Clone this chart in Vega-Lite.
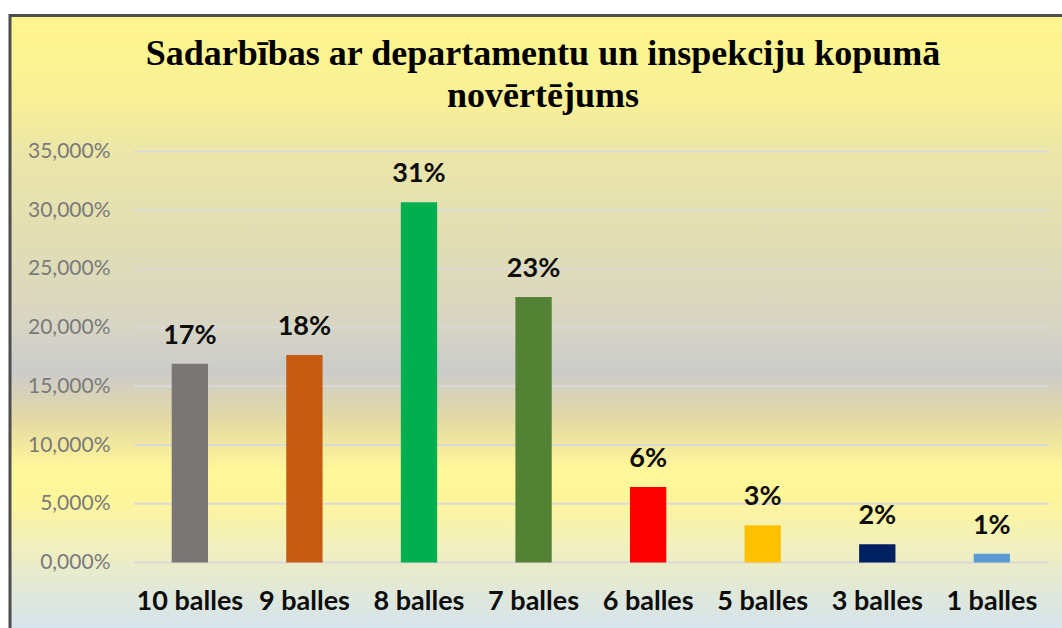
{
  "$schema": "https://vega.github.io/schema/vega-lite/v6.json",
  "width": 1052,
  "height": 612.5,
  "autosize": {"type": "none"},
  "padding": {"left": 10, "top": 15.5, "right": 0, "bottom": 0},
  "background": "white",
  "config": {
    "locale": {"number": {"decimal": ",", "thousands": " ", "grouping": [3], "currency": ["", " €"]}},
    "view": {
      "fill": {
        "gradient": "linear", "x1": 0, "y1": 0, "x2": 0, "y2": 1,
        "stops": [
          {"offset": 0, "color": "#fff68e"},
          {"offset": 0.138, "color": "#f9f096"},
          {"offset": 0.22, "color": "#ece6a8"},
          {"offset": 0.38, "color": "#e0ddb5"},
          {"offset": 0.51, "color": "#d7d5c4"},
          {"offset": 0.579, "color": "#cbcbcb"},
          {"offset": 0.66, "color": "#e4daa4"},
          {"offset": 0.742, "color": "#fff799"},
          {"offset": 0.79, "color": "#fdf59a"},
          {"offset": 0.865, "color": "#f2f0bd"},
          {"offset": 0.94, "color": "#e0e8d8"},
          {"offset": 1, "color": "#d6e4ec"}
        ]
      },
      "stroke": "#4d4d4d",
      "strokeWidth": 3,
      "strokeDash": [1052, 1664.5, 612.5]
    }
  },
  "title": {
    "text": ["Sadarbības ar departamentu un inspekciju kopumā", "novērtējums"],
    "font": "Liberation Serif",
    "fontSize": 36,
    "fontWeight": "bold",
    "color": "#000000",
    "lineHeight": 42,
    "anchor": "middle",
    "baseline": "top",
    "offset": -99,
    "dx": 7
  },
  "data": {
    "values": [
      {"cat": "10 balles", "v": 0.1693},
      {"cat": "9 balles", "v": 0.1767},
      {"cat": "8 balles", "v": 0.3067},
      {"cat": "7 balles", "v": 0.2261},
      {"cat": "6 balles", "v": 0.0643},
      {"cat": "5 balles", "v": 0.0317},
      {"cat": "3 balles", "v": 0.0155},
      {"cat": "1 balles", "v": 0.0075}
    ]
  },
  "encoding": {
    "x": {
      "field": "cat", "type": "nominal", "sort": null,
      "scale": {
        "domain": ["10 balles", "9 balles", "8 balles", "7 balles", "6 balles", "5 balles", "3 balles", "1 balles"],
        "paddingInner": 0.683, "paddingOuter": 0.9326, "align": 0.7567
      },
      "axis": {
        "orient": "bottom", "offset": -65.5, "domain": false, "ticks": false, "tickSize": 0,
        "labelPadding": 47, "labelBaseline": "alphabetic", "labelAngle": 0, "labelOverlap": false,
        "labelFont": "Lato", "labelFontWeight": "bold", "labelFontSize": 27, "labelColor": "#0d0d0d",
        "title": null, "grid": false
      }
    },
    "y": {
      "field": "v", "type": "quantitative", "stack": null,
      "scale": {"domain": [-0.05578, 0.46581], "nice": false, "zero": false},
      "axis": {
        "values": [0, 0.05, 0.1, 0.15, 0.2, 0.25, 0.3, 0.35], "format": ".3%",
        "grid": false, "domain": false, "ticks": false, "tickSize": 0, "labelPadding": 0,
        "offset": -100, "title": null,
        "labelFont": "Lato", "labelFontSize": 21, "labelColor": "#7a7a7a", "labelBaseline": "middle"
      }
    }
  },
  "layer": [
    {
      "data": {"values": [{"g": 0}, {"g": 0.05}, {"g": 0.1}, {"g": 0.15}, {"g": 0.2}, {"g": 0.25}, {"g": 0.3}, {"g": 0.35}]},
      "mark": {"type": "rule", "color": "#d9d9d9", "strokeWidth": 2, "xOffset": -56, "x2Offset": 57},
      "encoding": {
        "y": {"field": "g", "type": "quantitative"},
        "x": {"datum": "10 balles", "type": "nominal"},
        "x2": {"datum": "1 balles"}
      }
    },
    {
      "mark": {"type": "bar"},
      "encoding": {
        "y2": {"datum": 0},
        "color": {
          "field": "cat", "type": "nominal", "legend": null,
          "scale": {
            "domain": ["10 balles", "9 balles", "8 balles", "7 balles", "6 balles", "5 balles", "3 balles", "1 balles"],
            "range": ["#7b7676", "#c55a11", "#00b050", "#548235", "#ff0000", "#ffc000", "#002060", "#5b9bd5"]
          }
        }
      }
    },
    {
      "mark": {"type": "text", "font": "Lato", "fontWeight": "bold", "fontSize": 27, "baseline": "alphabetic", "dy": -20, "color": "#0d0d0d"},
      "encoding": {
        "text": {"field": "v", "type": "quantitative", "format": ".0%"}
      }
    }
  ]
}
